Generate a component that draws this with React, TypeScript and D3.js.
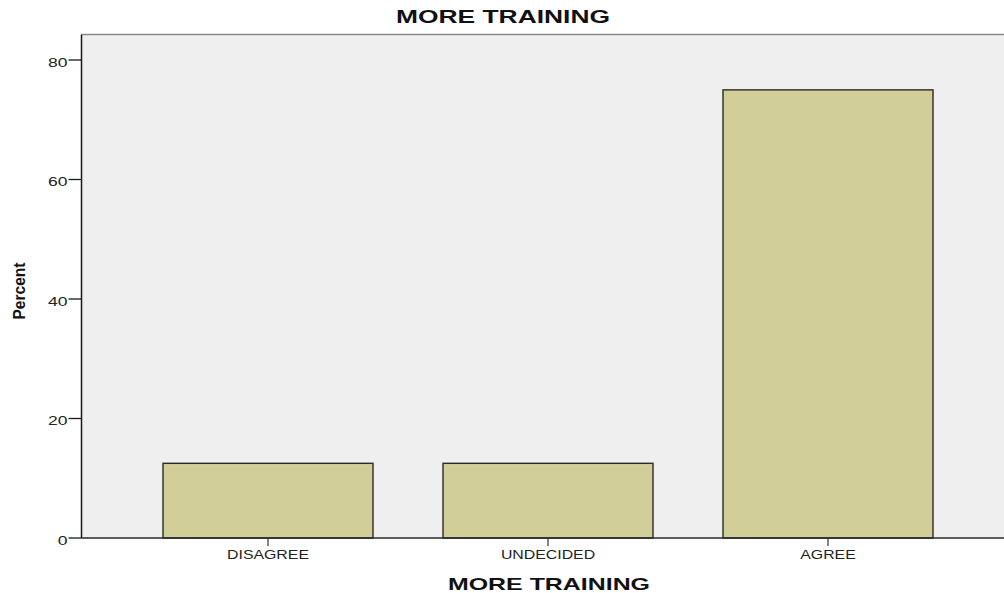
import React from "react";
import * as d3 from "d3";

const categories = ["DISAGREE", "UNDECIDED", "AGREE"];
const percents = [12.5, 12.5, 75];
const yTicks = [0, 20, 40, 60, 80];

const W = 1004,
  H = 593;
const plot = { left: 81.5, top: 34.5, right: 1004, bottom: 538 };

export default function App() {
  const y = d3.scaleLinear().domain([0, 80]).range([plot.bottom, 60]);
  const x = d3
    .scaleBand<string>()
    .domain(categories)
    .range([128, 968])
    .paddingInner(0.25)
    .paddingOuter(0.125);

  const font = "Arial, 'Liberation Sans', sans-serif";

  return (
    <div style={{ position: "fixed", left: 0, top: 0 }}>
      <svg width={W} height={H} style={{ display: "block", background: "#fff" }}>
        <rect
          x={plot.left}
          y={plot.top}
          width={plot.right - plot.left}
          height={plot.bottom - plot.top}
          fill="#efefef"
        />
        <line x1={plot.left} x2={plot.right} y1={plot.top} y2={plot.top} stroke="#8a8a8a" strokeWidth={1.5} />
        {categories.map((c, i) => (
          <rect
            key={c}
            x={x(c)}
            y={y(percents[i])}
            width={x.bandwidth()}
            height={plot.bottom - y(percents[i])}
            fill="#d2ce98"
            stroke="#2a2a2a"
            strokeWidth={1.4}
          />
        ))}
        {/* axes */}
        <line x1={plot.left} x2={plot.left} y1={plot.top} y2={plot.bottom} stroke="#1a1a1a" strokeWidth={1.5} />
        <line x1={plot.left} x2={plot.right} y1={plot.bottom} y2={plot.bottom} stroke="#2a2a2a" strokeWidth={1.5} />
        {yTicks.map((t) => (
          <g key={t}>
            <line x1={plot.left - 13} x2={plot.left} y1={y(t)} y2={y(t)} stroke="#1a1a1a" strokeWidth={1.3} />
            <text
              transform={`translate(${plot.left - 14},${y(t) + 2}) scale(1.3,1)`}
              dy="0.35em"
              textAnchor="end"
              fontFamily={font}
              fontSize={13.5}
              fill="#222"
            >
              {t}
            </text>
          </g>
        ))}
        {categories.map((c) => {
          const cx = (x(c) ?? 0) + x.bandwidth() / 2;
          return (
            <g key={c}>
              <line x1={cx} x2={cx} y1={plot.bottom} y2={plot.bottom + 8} stroke="#333" strokeWidth={1.2} />
              <text
                transform={`translate(${cx},559) scale(1.27,1)`}
                textAnchor="middle"
                fontFamily={font}
                fontSize={12.5}
                fill="#222"
              >
                {c}
              </text>
            </g>
          );
        })}
        <text
          x={503}
          y={23}
          textAnchor="middle"
          fontFamily={font}
          fontWeight="bold"
          fontSize={17.5}
          fill="#111"
          textLength={214}
          lengthAdjust="spacingAndGlyphs"
        >
          MORE TRAINING
        </text>
        <text
          x={549}
          y={590}
          textAnchor="middle"
          fontFamily={font}
          fontWeight="bold"
          fontSize={17}
          fill="#111"
          textLength={202}
          lengthAdjust="spacingAndGlyphs"
        >
          MORE TRAINING
        </text>
        <text
          transform={`translate(25,291) rotate(-90)`}
          textAnchor="middle"
          fontFamily={font}
          fontWeight="bold"
          fontSize={17}
          fill="#111"
          textLength={57}
          lengthAdjust="spacingAndGlyphs"
        >
          Percent
        </text>
      </svg>
    </div>
  );
}
